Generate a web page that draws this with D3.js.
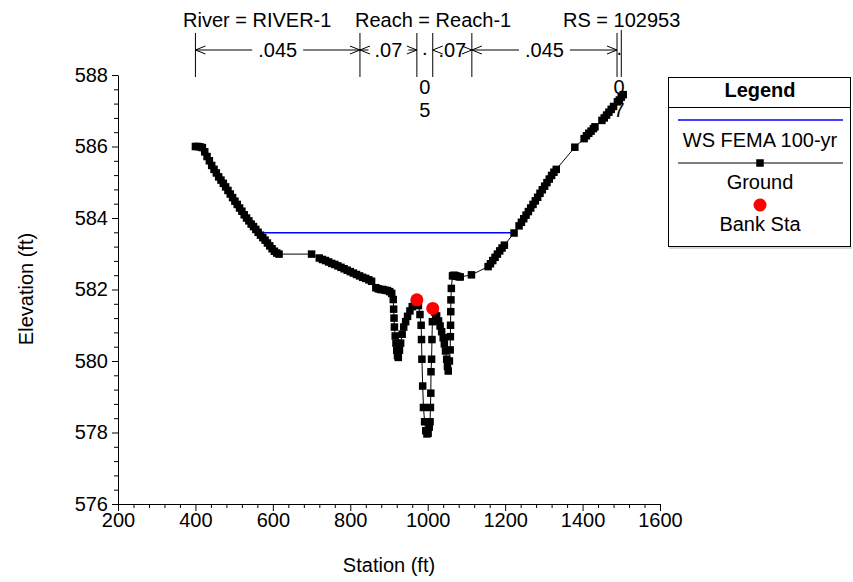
<!DOCTYPE html>
<html>
<head>
<meta charset="utf-8">
<script src="https://cdn.jsdelivr.net/npm/d3@7"></script>
<style>
  body { margin: 0; background: #fff; }
  svg { display: block; font-family: Arial, "Liberation Sans", sans-serif; }
</style>
</head>
<body>
<svg id="chart" width="853" height="582"></svg>
<script>
// Ground profile (station, elevation)
const groundStation = [400, 406, 412, 418, 424, 430, 436, 442, 448, 454, 460, 466, 472, 478, 484, 490, 496, 502, 508, 514,
  520, 526, 532, 538, 544, 550, 556, 562, 568, 574, 580, 586, 592, 598, 604, 610, 616,
  700, 720, 728, 736, 744, 752, 760, 768, 776, 784, 792, 800, 808, 816, 824, 832, 840, 848, 855,
  866, 872, 878, 884, 890, 896, 902, 907, 911, 912, 913, 914, 916, 918, 920, 922, 924, 927, 930, 934, 938, 943, 948, 954, 960, 966, 972,
  976, 980, 983, 984, 985, 987, 989, 992, 995, 998, 1001, 1004, 1006, 1007, 1008, 1008.5, 1010, 1011, 1012, 1013,
  1018, 1023, 1028, 1032, 1036, 1040, 1043, 1046, 1049, 1051, 1053, 1056, 1058, 1058.5, 1059, 1059.5, 1060, 1061, 1064,
  1068, 1072, 1076, 1080, 1084, 1113, 1156, 1162, 1168, 1174, 1180, 1186, 1192, 1198, 1223,
  1236, 1242, 1248, 1254, 1260, 1266, 1272, 1278, 1284, 1290, 1296, 1302, 1308, 1314, 1320, 1326, 1332,
  1380, 1404, 1410, 1416, 1422, 1428, 1432, 1450, 1456, 1462, 1468, 1474, 1480, 1490, 1495, 1500, 1505];
const groundElev = [586.00, 586.00, 585.99, 585.97, 585.85, 585.72, 585.60, 585.47, 585.36, 585.26, 585.15, 585.06, 584.97, 584.87, 584.77, 584.67, 584.57, 584.47, 584.38, 584.28,
  584.19, 584.09, 584.00, 583.92, 583.83, 583.76, 583.68, 583.60, 583.52, 583.45, 583.38, 583.30, 583.22, 583.14, 583.07, 583.02, 582.99,
  582.99, 582.88, 582.84, 582.81, 582.77, 582.73, 582.70, 582.66, 582.62, 582.58, 582.54, 582.50, 582.46, 582.42, 582.38, 582.34, 582.31, 582.27, 582.23,
  582.05, 582.02, 582.00, 582.00, 581.98, 581.97, 581.94, 581.89, 581.72, 581.45, 581.20, 580.95, 580.70, 580.50, 580.30, 580.15, 580.10, 580.30, 580.50, 580.75, 580.95, 581.10, 581.25, 581.40, 581.52, 581.62, 581.71,
  581.55, 581.30, 581.00, 580.60, 580.05, 579.30, 578.70, 578.30, 578.05, 577.96, 577.98, 578.15, 578.30, 578.70, 579.10, 579.70, 580.05, 580.60, 581.10, 581.47,
  581.37, 581.26, 581.12, 580.98, 580.82, 580.65, 580.48, 580.28, 580.05, 579.85, 579.72, 580.00, 580.31, 580.68, 581.00, 581.38, 581.71, 582.03, 582.38,
  582.40, 582.38, 582.37, 582.36, 582.35, 582.41, 582.64, 582.72, 582.81, 582.90, 582.99, 583.08, 583.16, 583.24, 583.58,
  583.78, 583.88, 583.98, 584.08, 584.18, 584.28, 584.38, 584.48, 584.58, 584.69, 584.79, 584.89, 584.99, 585.09, 585.19, 585.28, 585.36,
  585.98, 586.22, 586.30, 586.37, 586.43, 586.50, 586.55, 586.73, 586.80, 586.88, 586.96, 587.04, 587.12, 587.25, 587.30, 587.38, 587.45];

// Water surface (FEMA 100-yr)
const wsStation = [565, 1222];
const wsElev = [583.59, 583.59];

// Bank stations
const bankStation = [972, 1013];
const bankElev = [581.71, 581.47];

// Manning's n breaks along the top
const nBreaks = [400, 825, 972, 1013, 1114, 1489, 1500];
const nValues = [".045", ".07", ".05", ".07", ".045", ".07"];

// Axis ticks
const xTicks = [200, 400, 600, 800, 1000, 1200, 1400, 1600];
const yTicks = [576, 578, 580, 582, 584, 586, 588];

const titleParts = ["River = RIVER-1", "Reach = Reach-1", "RS = 102953"];
const legendItems = ["WS FEMA 100-yr", "Ground", "Bank Sta"];

const svg = d3.select("#chart");

// Scales
const x = d3.scaleLinear().domain([200, 1600]).range([118, 660]);
const y = d3.scaleLinear().domain([576, 588]).range([504, 75]);

// Title
const titleX = [183, 355, 563];
svg.selectAll(".title")
    .data(titleParts)
    .enter()
    .append("text")
    .attr("x", (d, i) => titleX[i])
    .attr("y", 27)
    .style("font-size", "20px")
    .text(d => d);

// Manning's n brackets
const nGroup = svg.append("g");
const arrowY = 50;
nBreaks.forEach((b, i) => {
    const top = i === nBreaks.length - 1 ? 30 : 33;
    nGroup.append("line")
        .attr("x1", x(b)).attr("x2", x(b))
        .attr("y1", top).attr("y2", 77)
        .attr("stroke", "#000").attr("stroke-width", 1);
});
nValues.forEach((v, i) => {
    const x0 = x(nBreaks[i]);
    const x1 = x(nBreaks[i + 1]);
    const cx = (x0 + x1) / 2;
    const t = nGroup.append("text")
        .attr("x", cx)
        .attr("y", 57)
        .attr("text-anchor", "middle")
        .style("font-size", "20px")
        .text(v);
    const w = t.node().getComputedTextLength();
    if (w + 6 < x1 - x0) {
        // horizontal label with arrows
        if (cx - w / 2 - 6 > x0) {
            nGroup.append("line")
                .attr("x1", x0).attr("x2", cx - w / 2 - 6)
                .attr("y1", arrowY).attr("y2", arrowY)
                .attr("stroke", "#000");
        }
        if (cx + w / 2 + 6 < x1) {
            nGroup.append("line")
                .attr("x1", cx + w / 2 + 6).attr("x2", x1)
                .attr("y1", arrowY).attr("y2", arrowY)
                .attr("stroke", "#000");
        }
        nGroup.append("path")
            .attr("d", `M${x0 + 10},${arrowY - 4}L${x0},${arrowY}L${x0 + 10},${arrowY + 4}`)
            .attr("fill", "none").attr("stroke", "#000");
        nGroup.append("path")
            .attr("d", `M${x1 - 10},${arrowY - 4}L${x1},${arrowY}L${x1 - 10},${arrowY + 4}`)
            .attr("fill", "none").attr("stroke", "#000");
    } else {
        // too narrow: write the value downwards
        t.remove();
        const rows = [55, 94, 117];
        v.split("").forEach((ch, k) => {
            nGroup.append("text")
                .attr("x", cx)
                .attr("y", rows[k])
                .attr("text-anchor", "middle")
                .style("font-size", "20px")
                .text(ch);
        });
    }
});

// Axes
const xAxis = svg.append("g")
    .attr("transform", "translate(0,504)")
    .call(d3.axisBottom(x).tickValues(xTicks).tickSize(7).tickSizeOuter(0).tickPadding(2).tickFormat(d3.format("d")));
const xMinor = svg.append("g")
    .attr("transform", "translate(0,504)")
    .call(d3.axisBottom(x).tickValues(d3.range(200, 1600, 40).filter(d => d % 200 !== 0)).tickSize(4).tickFormat(""));
xMinor.select(".domain").remove();

const yAxis = svg.append("g")
    .attr("transform", "translate(118,0)")
    .call(d3.axisLeft(y).tickValues(yTicks).tickSize(6).tickSizeOuter(0).tickPadding(4).tickFormat(d3.format("d")));
const yMinor = svg.append("g")
    .attr("transform", "translate(118,0)")
    .call(d3.axisLeft(y).tickValues(d3.range(576, 588, 0.4).filter(d => Math.abs(d / 2 - Math.round(d / 2)) > 0.01)).tickSize(4).tickFormat(""));
yMinor.select(".domain").remove();

svg.selectAll(".tick text")
    .style("font-size", "20px")
    .style("font-family", "Arial, 'Liberation Sans', sans-serif")
    .attr("fill", "#000");
svg.selectAll(".domain, .tick line").attr("stroke", "#000");

// Axis titles
svg.append("text")
    .attr("x", 389)
    .attr("y", 572)
    .attr("text-anchor", "middle")
    .style("font-size", "20px")
    .text("Station (ft)");
svg.append("text")
    .attr("transform", "translate(33,289) rotate(-90)")
    .attr("text-anchor", "middle")
    .style("font-size", "20px")
    .text("Elevation (ft)");

// Water surface
svg.append("path")
    .datum(wsStation.map((s, i) => [s, wsElev[i]]))
    .attr("d", d3.line().x(d => x(d[0])).y(d => y(d[1])))
    .attr("fill", "none")
    .attr("stroke", "#0000ff")
    .attr("stroke-width", 1.5);

// Ground line and markers
const ground = groundStation.map((s, i) => ({ s: s, e: groundElev[i] }));
svg.append("path")
    .datum(ground)
    .attr("d", d3.line().x(d => x(d.s)).y(d => y(d.e)))
    .attr("fill", "none")
    .attr("stroke", "#000")
    .attr("stroke-width", 1);
const mk = 7.5;
svg.selectAll(".gpt")
    .data(ground)
    .enter()
    .append("rect")
    .attr("class", "gpt")
    .attr("x", d => x(d.s) - mk / 2)
    .attr("y", d => y(d.e) - mk / 2)
    .attr("width", mk)
    .attr("height", mk)
    .attr("fill", "#000");

// Bank stations
svg.selectAll(".bank")
    .data(bankStation)
    .enter()
    .append("circle")
    .attr("cx", d => x(d))
    .attr("cy", (d, i) => y(bankElev[i]))
    .attr("r", 6.5)
    .attr("fill", "#ff0000");

// Legend
const lg = svg.append("g");
lg.append("rect")
    .attr("x", 668.5).attr("y", 77.5)
    .attr("width", 182).attr("height", 169)
    .attr("fill", "#fff").attr("stroke", "#000");
lg.append("line")
    .attr("x1", 669).attr("x2", 852)
    .attr("y1", 248).attr("y2", 248)
    .attr("stroke", "#b0b0b0");
lg.append("line")
    .attr("x1", 668.5).attr("x2", 850.5)
    .attr("y1", 107.5).attr("y2", 107.5)
    .attr("stroke", "#000");
lg.append("text")
    .attr("x", 760).attr("y", 97)
    .attr("text-anchor", "middle")
    .style("font-size", "20px")
    .style("font-weight", "bold")
    .text("Legend");
lg.append("line")
    .attr("x1", 678).attr("x2", 843)
    .attr("y1", 120).attr("y2", 120)
    .attr("stroke", "#0000ff").attr("stroke-width", 1.5);
lg.append("line")
    .attr("x1", 678).attr("x2", 843)
    .attr("y1", 163).attr("y2", 163)
    .attr("stroke", "#000");
lg.append("rect")
    .attr("x", 760 - mk / 2).attr("y", 163 - mk / 2)
    .attr("width", mk).attr("height", mk)
    .attr("fill", "#000");
lg.append("circle")
    .attr("cx", 760).attr("cy", 205)
    .attr("r", 6.5)
    .attr("fill", "#ff0000");
const legendY = [147, 189, 231];
lg.selectAll(".ltext")
    .data(legendItems)
    .enter()
    .append("text")
    .attr("x", 760)
    .attr("y", (d, i) => legendY[i])
    .attr("text-anchor", "middle")
    .style("font-size", "20px")
    .text(d => d);
</script>
</body>
</html>
